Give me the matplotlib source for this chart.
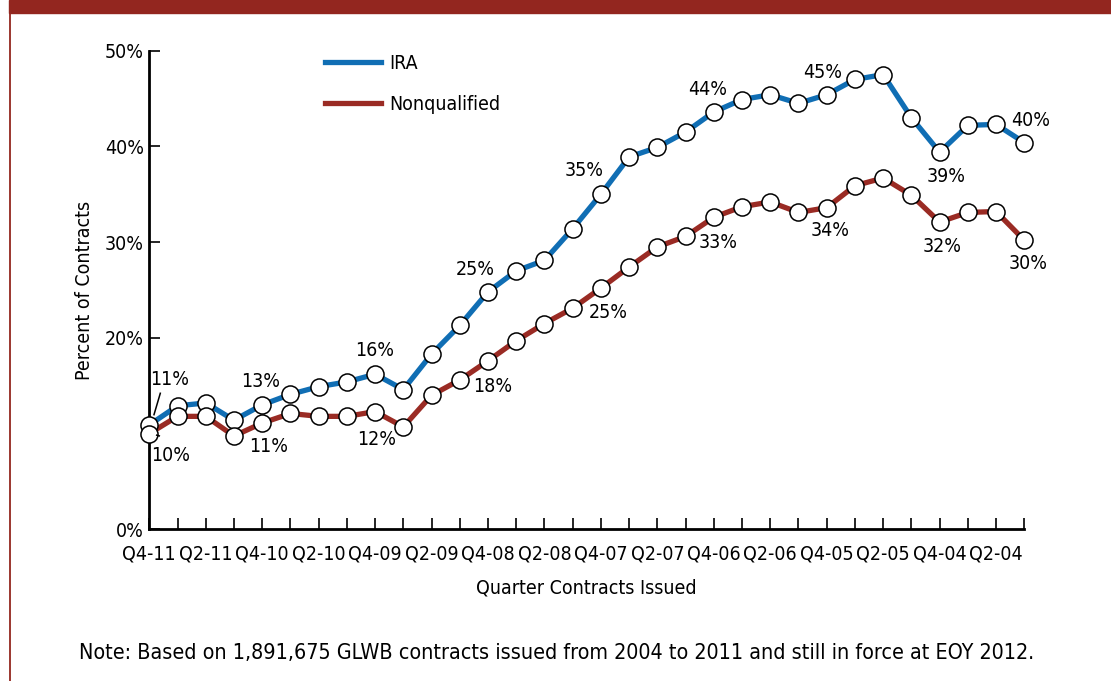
import matplotlib
matplotlib.use("Agg")
import matplotlib.pyplot as plt
from matplotlib import transforms
from matplotlib.patches import Rectangle
from matplotlib.lines import Line2D

plt.rcParams['font.family'] = ['DejaVu Sans']
plt.rcParams['font.stretch'] = 'condensed'

quarters = []
for yr in range(11, 3, -1):
    for q in (4, 3, 2, 1):
        quarters.append(f"Q{q}-{yr:02d}")

ira = [10.9, 12.9, 13.2, 11.4, 13.0, 14.1, 14.9, 15.4, 16.2, 14.6, 18.3, 21.3,
       24.8, 27.0, 28.1, 31.4, 35.0, 38.9, 39.9, 41.5, 43.6, 44.9, 45.4, 44.5,
       45.4, 47.0, 47.5, 43.0, 39.4, 42.2, 42.3, 40.4]
nonq = [10.0, 11.8, 11.8, 9.75, 11.1, 12.1, 11.8, 11.8, 12.3, 10.7, 14.0, 15.6,
        17.6, 19.7, 21.5, 23.1, 25.2, 27.4, 29.5, 30.6, 32.6, 33.7, 34.2, 33.1,
        33.6, 35.9, 36.7, 34.9, 32.1, 33.1, 33.2, 30.2]

ira_color = '#106EB4'
nonq_color = '#9A2B24'
header_color = '#93261F'
FS = 14

W, H = 1111, 681
fig = plt.figure(figsize=(W / 100, H / 100), dpi=100)

# frame decorations
fig.patches.append(Rectangle((9 / W, 1 - 13 / H), 1 - 9 / W, 13 / H,
                             transform=fig.transFigure, color=header_color, zorder=0))
fig.lines.append(Line2D([9.5 / W, 9.5 / W], [0, 1 - 13 / H], transform=fig.transFigure,
                        color=header_color, lw=1.3))

left, right = 149.3 / W, 1024.3 / W
bottom, top = 1 - 529.3 / H, 1 - 50.7 / H
ax = fig.add_axes([left, bottom, right - left, top - bottom])

x = list(range(len(quarters)))
for vals, col, lab in ((ira, ira_color, 'IRA'), (nonq, nonq_color, 'Nonqualified')):
    ax.plot(x, vals, color=col, lw=3.8, solid_joinstyle='round', zorder=3,
            clip_on=False, label=lab)
    ax.plot(x, vals, ls='none', marker='o', ms=12.3, mfc='white', mec='black',
            mew=1.1, zorder=4, clip_on=False)

ax.set_xlim(0, len(quarters) - 1)
ax.set_ylim(0, 50)
ax.set_xticks(x)
ax.set_xticklabels([q if i % 2 == 0 else '' for i, q in enumerate(quarters)])
ax.set_yticks([0, 20, 30, 40, 50])
ax.set_yticklabels(['0%', '20%', '30%', '40%', '50%'])
for s in ('top', 'right'):
    ax.spines[s].set_visible(False)
for s in ('left', 'bottom'):
    ax.spines[s].set_linewidth(2.0)
ax.tick_params(axis='both', direction='in', length=8, width=1.2, labelsize=FS,
               colors='black')
ax.tick_params(axis='x', pad=11)
ax.tick_params(axis='y', pad=4)

ax.set_xlabel('Quarter Contracts Issued', fontsize=FS, labelpad=11)
ax.set_ylabel('Percent of Contracts', fontsize=FS, labelpad=8)

# legend
leg = ax.legend(loc='upper left', bbox_to_anchor=((307 - 149.3) / (1024.3 - 149.3), 1.03),
                frameon=False, fontsize=FS, handlelength=2.9, handletextpad=0.45,
                labelspacing=1.15)
for h in leg.get_lines():
    h.set_linewidth(3.8)

# data labels (index, pixel offset dx, dy (down positive))
ira_labels = [(0, 20, -45), (4, -2, -23), (8, 0, -24), (12, -13, -22), (16, -17, -24),
              (20, -6, -22), (24, -4, -22), (28, 7, 24), (31, 6, -22)]
nonq_labels = [(0, 21, 22), (4, 6, 23), (8, 2, 28), (12, 5, 26), (16, 7, 24),
               (20, 4, 25), (24, 3, 23), (28, 3, 24), (31, 4, 23)]
for vals, labs in ((ira, ira_labels), (nonq, nonq_labels)):
    for i, dx, dy in labs:
        ax.annotate(f"{round(vals[i])}%", (x[i], vals[i]), xytext=(dx, -dy),
                    textcoords='offset pixels', ha='center', va='center',
                    fontsize=FS, zorder=6, annotation_clip=False)

# leader lines near first points
for vals, p0, p1 in ((ira, (4.7, 10.3), (11, 31.7)), (nonq, (7.4, -1.6), (10, -2.3))):
    tr_a = transforms.offset_copy(ax.transData, fig=fig, x=p0[0], y=p0[1], units='dots')
    tr_b = transforms.offset_copy(ax.transData, fig=fig, x=p1[0], y=p1[1], units='dots')
    a = tr_a.transform((x[0], vals[0]))
    b = tr_b.transform((x[0], vals[0]))
    fig.lines.append(Line2D([a[0] / W, b[0] / W], [a[1] / H, b[1] / H],
                            transform=fig.transFigure, color='black', lw=1.1, zorder=5))

fig.text(557 / W, 1 - 653 / H,
         'Note: Based on 1,891,675 GLWB contracts issued from 2004 to 2011 and still in force at EOY 2012.',
         ha='center', va='center', fontsize=15.4)

fig.savefig('out.png', dpi=100)
